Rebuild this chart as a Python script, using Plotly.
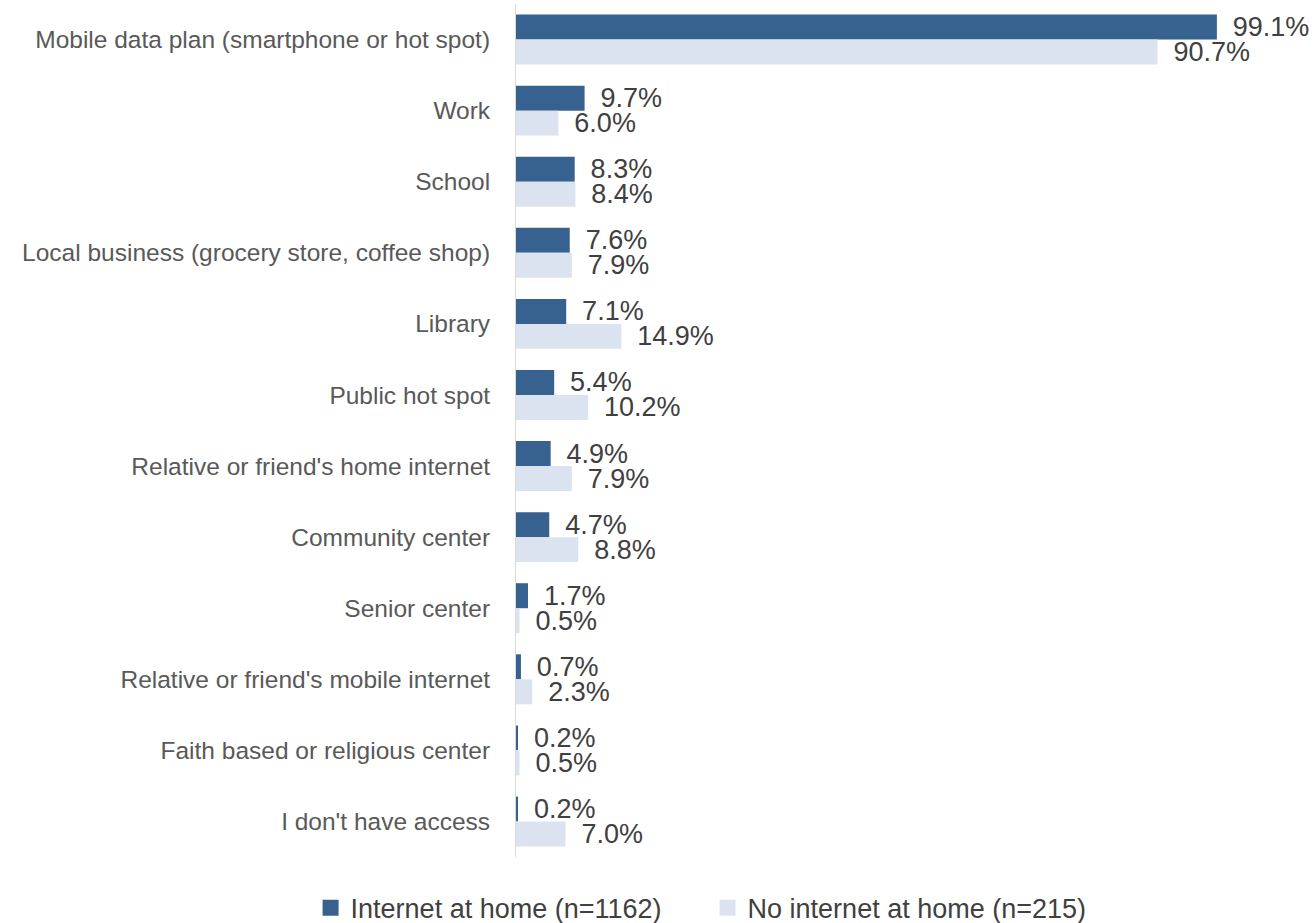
import plotly.graph_objects as go

# Where respondents get internet access outside the home, by home-internet status
categories = [
    "Mobile data plan (smartphone or hot spot)",
    "Work",
    "School",
    "Local business (grocery store, coffee shop)",
    "Library",
    "Public hot spot",
    "Relative or friend's home internet",
    "Community center",
    "Senior center",
    "Relative or friend's mobile internet",
    "Faith based or religious center",
    "I don't have access",
]
internet_at_home = [99.1, 9.7, 8.3, 7.6, 7.1, 5.4, 4.9, 4.7, 1.7, 0.7, 0.2, 0.2]
no_internet_at_home = [90.7, 6.0, 8.4, 7.9, 14.9, 10.2, 7.9, 8.8, 0.5, 2.3, 0.5, 7.0]

series_names = ["Internet at home (n=1162)", "No internet at home (n=215)"]
dark_blue = "#37618F"
light_blue = "#DCE3F0"
text_grey = "#404040"
label_grey = "#595959"
font_family = "Liberation Sans, Arial, sans-serif"

# value labels sit a small gap past the end of each bar
label_template = "\u00a0\u2009%{x:.1f}%"

fig = go.Figure()

for name, values, color in zip(series_names,
                               [internet_at_home, no_internet_at_home],
                               [dark_blue, light_blue]):
    fig.add_trace(go.Bar(
        y=categories, x=values, orientation="h",
        name=name, marker=dict(color=color, line=dict(width=0)),
        texttemplate=label_template, textposition="outside",
        textfont=dict(size=27, color=text_grey, family=font_family),
        constraintext="none", cliponaxis=False, showlegend=False,
    ))

# Square legend swatches
for name, color in zip(series_names, [dark_blue, light_blue]):
    fig.add_trace(go.Scatter(
        x=[None], y=[None], mode="markers", name=name,
        marker=dict(symbol="square", size=16, color=color),
        showlegend=True,
    ))

fig.update_layout(
    width=1316, height=923,
    margin=dict(l=516, r=10, t=4, b=66),
    paper_bgcolor="white", plot_bgcolor="white",
    barmode="group", bargap=0.297, bargroupgap=0,
    font=dict(family=font_family, color=text_grey),
    showlegend=True,
    legend=dict(
        orientation="h", xref="container", yref="container",
        x=0.236, xanchor="left", y=0.016, yanchor="middle",
        font=dict(size=27, color=text_grey, family=font_family),
        entrywidth=352, entrywidthmode="pixels",
        itemwidth=30, bgcolor="rgba(0,0,0,0)",
    ),
    xaxis=dict(
        range=[0, 111.7], visible=False, showgrid=False, zeroline=False,
    ),
    yaxis=dict(
        autorange="reversed", showgrid=False, zeroline=False,
        showline=True, linecolor="#D9D9D9", linewidth=1,
        ticks="", ticklabelstandoff=20,
        tickfont=dict(size=24.5, color=label_grey, family=font_family),
    ),
)

fig.write_html("out.html")
